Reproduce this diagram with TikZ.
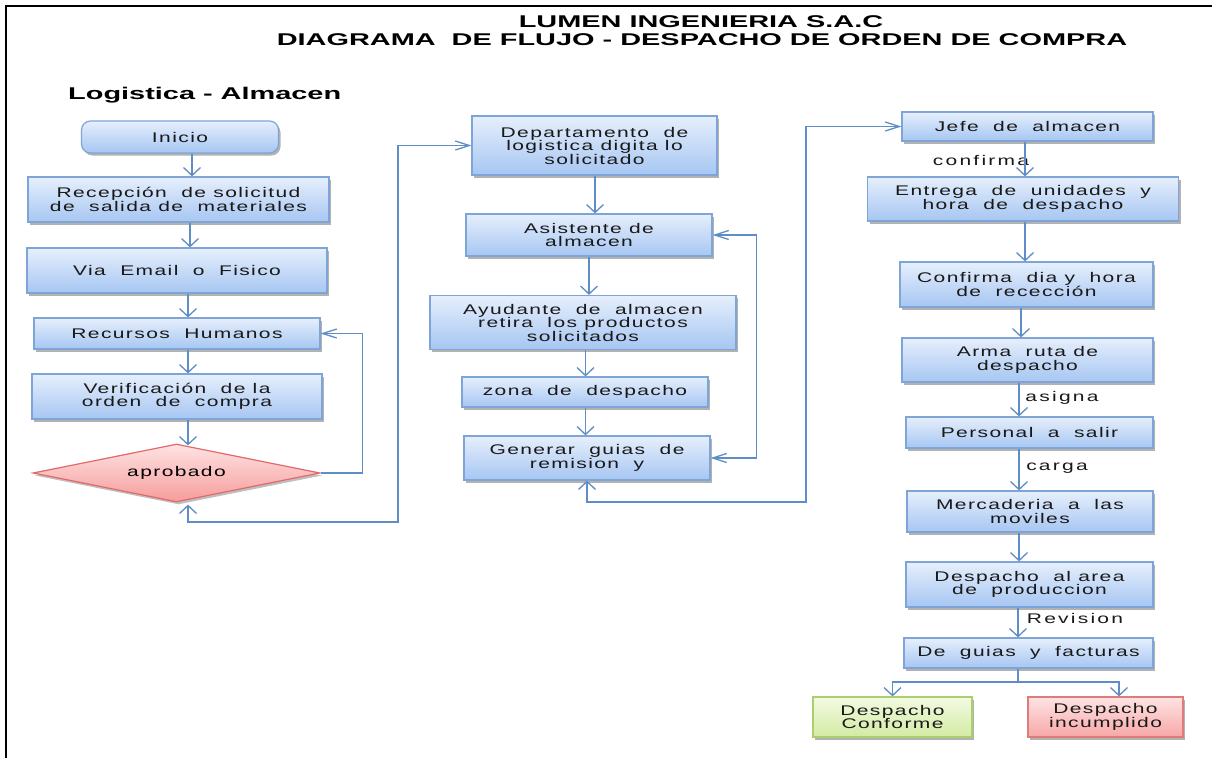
\documentclass[tikz,border=0pt]{standalone}
\usepackage{fontspec}
\setmainfont{Liberation Sans}
\newfontfamily\boxfont[FakeStretch=1.5,LetterSpace=10]{Liberation Sans}
\newfontfamily\tagfont[FakeStretch=1.5,LetterSpace=16]{Liberation Sans}
\newfontfamily\headfont[FakeStretch=1.7]{Liberation Sans}
\usetikzlibrary{arrows.meta,shadows,shapes.geometric,calc}

\definecolor{boxtop}{HTML}{E6EFFC}
\definecolor{boxbot}{HTML}{A6C6F2}
\definecolor{boxline}{HTML}{7FA4D8}
\definecolor{flow}{HTML}{5F8DC6}
\definecolor{dtop}{HTML}{FFE3E3}
\definecolor{dbot}{HTML}{F69C9C}
\definecolor{dline}{HTML}{E06A6A}
\definecolor{gtop}{HTML}{F3FAE2}
\definecolor{gbot}{HTML}{D3EBA3}
\definecolor{gline}{HTML}{A9CF6E}
\definecolor{rtop}{HTML}{FFE4E4}
\definecolor{rbot}{HTML}{F7A6A6}
\definecolor{rline}{HTML}{DE7B7B}

\tikzset{
  stepbox/.style={rectangle, draw=boxline, line width=1.2pt,
    top color=boxtop, bottom color=boxbot,
    drop shadow={shadow xshift=2pt, shadow yshift=-2.5pt, opacity=0.3, fill=black},
    align=center, inner sep=0pt, text=black!90,
    font=\boxfont\fontsize{14}{13.5}\selectfont},
  startbox/.style={stepbox, rounded corners=9pt},
  decision/.style={diamond, aspect=5, draw=dline, line width=1.2pt,
    top color=dtop, bottom color=dbot, inner sep=0pt,
    drop shadow={shadow xshift=2pt, shadow yshift=-2.5pt, opacity=0.25, fill=black},
    font=\boxfont\fontsize{14}{13.5}\selectfont},
  okbox/.style={stepbox, draw=gline, top color=gtop, bottom color=gbot},
  failbox/.style={stepbox, draw=rline, top color=rtop, bottom color=rbot},
  vtip/.tip={Straight Barb[length=8pt,width=17pt,line width=1.3pt]},
  htip/.tip={Straight Barb[length=14pt,width=9pt,line width=1.3pt]},
  link/.style={draw=flow, line width=1.5pt},
  vflow/.style={link, -vtip},
  hflow/.style={link, -htip},
  tag/.style={font=\tagfont\fontsize{14}{14}\selectfont, text=black!90, inner sep=0pt},
  head/.style={font=\headfont\bfseries\fontsize{17}{17}\selectfont, inner sep=0pt}
}

\begin{document}
\begin{tikzpicture}[x=1pt,y=-1pt]
\useasboundingbox (0,0) rectangle (1212,758);
\fill[white] (0,0) rectangle (1212,758);

% page frame
\draw[black, line width=1.6pt] (6,758) -- (6,6) -- (1212,6);

% headings
\node[head] (title1) at (701,22) {LUMEN INGENIERIA S.A.C};
\node[head] (title2) at (702,40) {DIAGRAMA \ DE FLUJO - DESPACHO DE ORDEN DE COMPRA};
\node[head, anchor=west] (area) at (68,95) {Logistica - Almacen};

% left column
\node[startbox, minimum width=197pt, minimum height=32pt] (inicio) at (180,137) {Inicio};
\node[stepbox, minimum width=301pt, minimum height=45pt] (recep) at (178.5,199.5) {Recepción \ de solicitud\\de \ salida de \ materiales};
\node[stepbox, minimum width=300pt, minimum height=45pt] (via) at (177,270.5) {Via \ Email \ o \ Fisico};
\node[stepbox, minimum width=286pt, minimum height=31pt] (rrhh) at (177,333.5) {Recursos \ Humanos};
\node[stepbox, minimum width=290pt, minimum height=45pt] (verif) at (177,396.5) {Verificación \ de la\\orden \ de \ compra};
\node[decision, minimum width=287pt, minimum height=58pt] (aprob) at (176.5,473) {aprobado};

% middle column
\node[stepbox, minimum width=245pt, minimum height=59pt] (depto) at (594.5,145.5) {Departamento \ de\\logistica digita lo\\solicitado};
\node[stepbox, minimum width=246pt, minimum height=42pt] (asis) at (589,235) {Asistente de\\almacen};
\node[stepbox, minimum width=306pt, minimum height=54pt] (ayud) at (583,322.5) {Ayudante \ de \ almacen\\retira \ los productos\\solicitados};
\node[stepbox, minimum width=246pt, minimum height=30pt] (zona) at (585,392) {zona \ de \ despacho};
\node[stepbox, minimum width=246pt, minimum height=44pt] (guiasrem) at (587,458) {Generar \ guias \ de\\remision \ y};

% right column
\node[stepbox, minimum width=251pt, minimum height=29pt] (jefe) at (1027.5,126.5) {Jefe \ de \ almacen};
\node[stepbox, minimum width=311pt, minimum height=44pt] (entrega) at (1023,199) {Entrega \ de \ unidades \ y\\hora \ de \ despacho};
\node[stepbox, minimum width=253pt, minimum height=45pt] (confdia) at (1026.5,284.5) {Confirma \ dia y \ hora\\de \ rececci\'on};
\node[stepbox, minimum width=251pt, minimum height=44pt] (ruta) at (1027.5,360) {Arma \ ruta de\\despacho};
\node[stepbox, minimum width=247pt, minimum height=31pt] (personal) at (1029.5,432.5) {Personal \ a \ salir};
\node[stepbox, minimum width=246pt, minimum height=41pt] (merca) at (1030,511.5) {Mercaderia \ a \ las\\moviles};
\node[stepbox, minimum width=247pt, minimum height=45pt] (despa) at (1029.5,584.5) {Despacho \ al area\\de \ produccion};
\node[stepbox, minimum width=249pt, minimum height=30pt] (revguias) at (1028.5,653) {De \ guias \ y \ facturas};
\node[okbox, minimum width=159pt, minimum height=40pt] (conforme) at (892.5,717) {Despacho\\Conforme};
\node[failbox, minimum width=155pt, minimum height=40pt] (incump) at (1105.5,717) {Despacho\\incumplido};

% connector labels
\node[tag] (lconf) at (981,160) {confirma};
\node[tag] (lasig) at (1062,398) {asigna};
\node[tag] (lcarga) at (1057,468) {carga};
\node[tag] (lrev) at (1075,618) {Revision};

% guide columns and bends
\coordinate (xa) at (192,0);
\coordinate (xb) at (190,0);
\coordinate (xc) at (188,0);
\coordinate (xd) at (595,0);
\coordinate (xe) at (589,0);
\coordinate (xf) at (585.5,0);
\coordinate (xg) at (1025,0);
\coordinate (xh) at (1021,0);
\coordinate (xi) at (1019,0);
\coordinate (bendL) at (398,522);
\coordinate (bendR) at (806,502);
\coordinate (split) at (1018,682);
\coordinate (xj) at (1119,0);

% left column flow
\draw[vflow] (inicio.south -| xa) -- (recep.north -| xa);
\draw[vflow] (recep.south -| xb) -- (via.north -| xb);
\draw[vflow] (via.south -| xc) -- (rrhh.north -| xc);
\draw[vflow] (rrhh.south -| xc) -- (verif.north -| xc);
\draw[vflow] (verif.south -| xc) -- ([yshift=-2pt]aprob.north -| xc);
\draw[hflow] (aprob.east) -- ++(42,0) |- (rrhh.east);
\draw[link, vtip-htip] ([yshift=-2pt]aprob.south -| xc) |- (bendL) |- (depto.west);

% middle column flow
\draw[vflow] (depto.south -| xd) -- (asis.north -| xd);
\draw[vflow] (asis.south -| xe) -- (ayud.north -| xe);
\draw[vflow] (ayud.south -| xf) -- (zona.north -| xf);
\draw[vflow] (zona.south -| xf) -- (guiasrem.north -| xf);
\draw[link, htip-htip] (guiasrem.east) -- ++(46,0) |- (asis.east);
\draw[link, vtip-htip] (guiasrem.south) |- (bendR) |- (jefe.west);

% right column flow
\draw[vflow] (jefe.south -| xg) -- (entrega.north -| xg);
\draw[vflow] (entrega.south -| xg) -- (confdia.north -| xg);
\draw[vflow] (confdia.south -| xh) -- (ruta.north -| xh);
\draw[vflow] (ruta.south -| xi) -- (personal.north -| xi);
\draw[vflow] (personal.south -| xi) -- (merca.north -| xi);
\draw[vflow] (merca.south -| xi) -- (despa.north -| xi);
\draw[vflow] (despa.south -| split) -- (revguias.north -| split);
\draw[link] (revguias.south -| split) -- (split);
\draw[vflow] (split) -| (conforme.north);
\draw[vflow] (split) -| (incump.north -| xj);
\end{tikzpicture}
\end{document}
